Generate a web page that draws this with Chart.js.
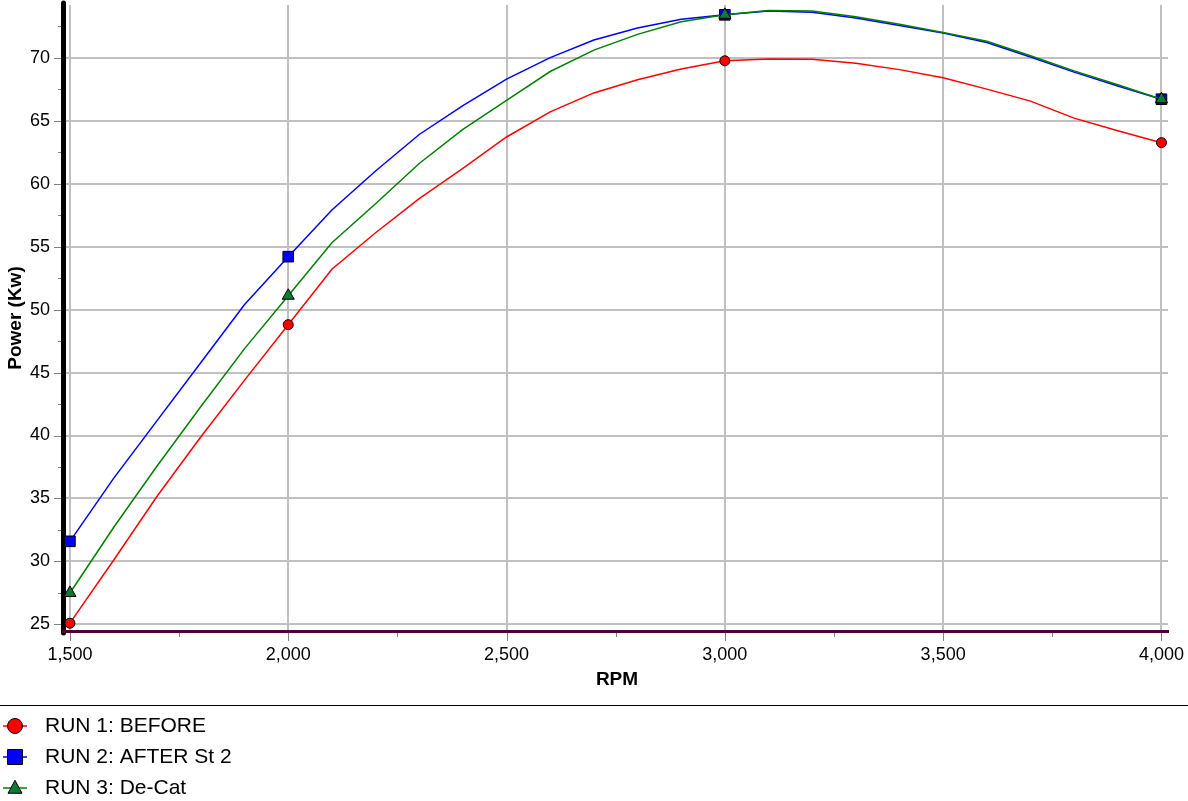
<!DOCTYPE html>
<html>
<head>
<meta charset="utf-8">
<script src="https://cdn.jsdelivr.net/npm/chart.js@4/dist/chart.umd.min.js"></script>
<style>
html, body { margin: 0; padding: 0; background: #fff; }
#wrap { width: 1188px; height: 801px; }
</style>
</head>
<body>
<div id="wrap"><canvas id="power-chart" width="1188" height="801"></canvas></div>
<script>
// dyno runs, power (kW) against engine speed
const rpm = [1500, 1600, 1700, 1800, 1900, 2000, 2100, 2200, 2300, 2400, 2500, 2600, 2700,
    2800, 2900, 3000, 3100, 3200, 3300, 3400, 3500, 3600, 3700, 3800, 3900, 4000];
const run1 = [25.1, 30.1, 35.2, 39.9, 44.4, 48.8, 53.2, 56.1, 58.8, 61.2, 63.7, 65.7, 67.2,
    68.25, 69.1, 69.75, 69.9, 69.88, 69.55, 69.05, 68.4, 67.5, 66.55, 65.2, 64.2, 63.25];
const run2 = [31.6, 36.6, 41.2, 45.8, 50.4, 54.2, 57.9, 61.0, 63.9, 66.2, 68.3, 70.0, 71.4,
    72.35, 73.05, 73.4, 73.7, 73.6, 73.15, 72.55, 71.95, 71.2, 70.05, 68.85, 67.75, 66.7];
const run3 = [27.5, 32.7, 37.6, 42.3, 46.9, 51.1, 55.3, 58.4, 61.6, 64.3, 66.6, 68.9, 70.6,
    71.85, 72.85, 73.4, 73.75, 73.7, 73.25, 72.65, 72.0, 71.3, 70.15, 68.95, 67.85, 66.7];
const markerRpm = [1500, 2000, 3000, 4000];
const xTicks = [1500, 1750, 2000, 2250, 2500, 2750, 3000, 3250, 3500, 3750, 4000];
const yTicks = [25, 27.5, 30, 32.5, 35, 37.5, 40, 42.5, 45, 47.5, 50, 52.5, 55, 57.5, 60,
    62.5, 65, 67.5, 70, 72.5];
const runLabels = ['RUN 1: BEFORE', 'RUN 2: AFTER St 2', 'RUN 3: De-Cat'];

const FONT = "'Liberation Sans', Arial, sans-serif";
const GRID = '#c0c0c0';

function makeRun(label, values, color, fill, style, radius, order) {
    return {
        label: label,
        data: rpm.map((r, i) => ({ x: r, y: values[i] })),
        borderColor: color,
        backgroundColor: fill,
        borderWidth: 1.5,
        tension: 0,
        pointStyle: style,
        pointRadius: ctx => markerRpm.includes(ctx.raw.x) ? radius : 0,
        pointBackgroundColor: fill,
        pointBorderColor: '#000',
        pointBorderWidth: 1,
        clip: false,
        order: order
    };
}

function drawMarker(ctx, style, x, y, r, fill) {
    ctx.beginPath();
    if (style === 'circle') {
        ctx.arc(x, y, r, 0, Math.PI * 2);
    } else if (style === 'rect') {
        ctx.rect(x - r, y - r, r * 2, r * 2);
    } else {
        ctx.moveTo(x, y - r * 1.1);
        ctx.lineTo(x + r, y + r * 0.75);
        ctx.lineTo(x - r, y + r * 0.75);
        ctx.closePath();
    }
    ctx.fillStyle = fill;
    ctx.fill();
    ctx.strokeStyle = '#000';
    ctx.lineWidth = 1;
    ctx.stroke();
}

// axis lines and major/minor tick marks sit just outside the plot area
const axisDecor = {
    id: 'axisDecor',
    beforeDatasetsDraw(chart) {
        const { ctx, chartArea: a, scales: { x, y } } = chart;
        ctx.save();
        ctx.strokeStyle = '#808080';
        ctx.lineWidth = 1;
        y.ticks.forEach(t => {
            const py = Math.round(y.getPixelForValue(t.value)) + 0.5;
            const len = t.value % 5 === 0 ? 7 : 3;
            ctx.beginPath();
            ctx.moveTo(a.left - 5 - len, py);
            ctx.lineTo(a.left - 5, py);
            ctx.stroke();
        });
        x.ticks.forEach(t => {
            const px = Math.round(x.getPixelForValue(t.value)) + 0.5;
            const len = t.value % 500 === 0 ? 8 : 4;
            ctx.beginPath();
            ctx.moveTo(px, a.bottom + 2);
            ctx.lineTo(px, a.bottom + 2 + len);
            ctx.stroke();
        });
        ctx.lineCap = 'round';
        ctx.strokeStyle = '#000';
        ctx.lineWidth = 5;
        ctx.beginPath();
        ctx.moveTo(a.left - 2.5, a.top - 2);
        ctx.lineTo(a.left - 2.5, a.bottom + 2);
        ctx.stroke();
        ctx.lineCap = 'butt';
        ctx.strokeStyle = '#4b0042';
        ctx.lineWidth = 3;
        ctx.beginPath();
        ctx.moveTo(a.left - 4, a.bottom + 0.5);
        ctx.lineTo(a.right + 1, a.bottom + 0.5);
        ctx.stroke();
        ctx.restore();
    }
};

// legend stacked under a rule at the bottom
const stackedLegend = {
    id: 'stackedLegend',
    afterDraw(chart) {
        const ctx = chart.ctx;
        ctx.save();
        ctx.strokeStyle = '#000';
        ctx.lineWidth = 1;
        ctx.beginPath();
        ctx.moveTo(0, 705.5);
        ctx.lineTo(chart.width, 705.5);
        ctx.stroke();
        const sizes = [7.5, 7.5, 7];
        chart.data.datasets.forEach((ds, i) => {
            const y = 726 + i * 31;
            ctx.strokeStyle = ds.borderColor;
            ctx.lineWidth = 1.5;
            ctx.beginPath();
            ctx.moveTo(3, y);
            ctx.lineTo(27, y);
            ctx.stroke();
            drawMarker(ctx, ds.pointStyle, 15, y, sizes[i], ds.backgroundColor);
            ctx.fillStyle = '#000';
            ctx.font = '21px ' + FONT;
            ctx.textBaseline = 'middle';
            ctx.textAlign = 'left';
            ctx.fillText(ds.label, 45, y);
        });
        ctx.restore();
    }
};

const ctx = document.getElementById('power-chart').getContext('2d');
const chart = new Chart(ctx, {
    type: 'line',
    data: {
        datasets: [
            makeRun(runLabels[0], run1, '#ff0000', '#ff0000', 'circle', 5, 2),
            makeRun(runLabels[1], run2, '#0000ff', '#0000ff', 'rect', 7.5, 1),
            makeRun(runLabels[2], run3, '#008000', '#0f7a35', 'triangle', 7, 0)
        ]
    },
    options: {
        responsive: false,
        animation: false,
        layout: {
            autoPadding: false,
            padding: { top: 5, right: 20, bottom: 100, left: 0 }
        },
        scales: {
            x: {
                type: 'linear',
                min: 1491,
                max: 4015,
                afterBuildTicks: s => { s.ticks = xTicks.map(v => ({ value: v })); },
                afterFit: s => { s.height = 70; s.paddingLeft = 0; s.paddingRight = 0; },
                border: { display: false },
                grid: {
                    drawTicks: false,
                    lineWidth: 2,
                    color: c => c.tick && c.tick.value % 500 === 0 ? GRID : 'rgba(0,0,0,0)'
                },
                ticks: {
                    autoSkip: false,
                    maxRotation: 0,
                    padding: 13,
                    color: '#000',
                    font: { family: FONT, size: 18 },
                    callback: v => v % 500 === 0 ? v.toLocaleString('en-US') : ''
                },
                title: {
                    display: true,
                    text: 'RPM',
                    color: '#000',
                    padding: { top: 0, bottom: 10 },
                    font: { family: FONT, size: 19, weight: 'bold' }
                }
            },
            y: {
                min: 24.48,
                max: 74.18,
                afterBuildTicks: s => { s.ticks = yTicks.map(v => ({ value: v })); },
                afterFit: s => { s.width = 66; s.paddingTop = 0; s.paddingBottom = 0; },
                border: { display: false },
                grid: {
                    drawTicks: false,
                    lineWidth: 2,
                    color: c => c.tick && c.tick.value % 5 === 0 ? GRID : 'rgba(0,0,0,0)'
                },
                ticks: {
                    autoSkip: false,
                    padding: 16,
                    color: '#000',
                    font: { family: FONT, size: 18 },
                    callback: v => v % 5 === 0 ? String(v) : ''
                },
                title: {
                    display: true,
                    text: 'Power (Kw)',
                    color: '#000',
                    padding: { top: 4, bottom: 0 },
                    font: { family: FONT, size: 19, weight: 'bold' }
                }
            }
        },
        plugins: {
            legend: { display: false },
            tooltip: { enabled: false }
        }
    },
    plugins: [axisDecor, stackedLegend]
});
</script>
</body>
</html>
